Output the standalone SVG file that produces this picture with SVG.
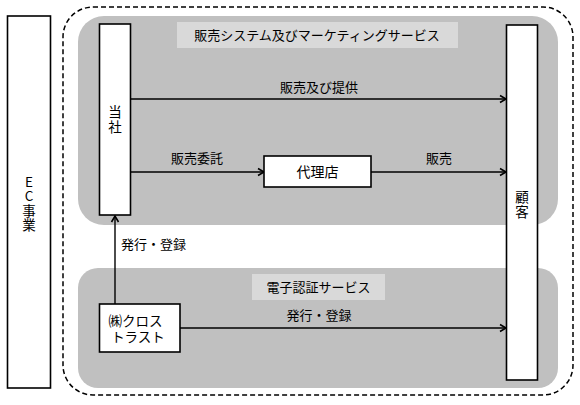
<svg xmlns="http://www.w3.org/2000/svg" width="580" height="405" viewBox="0 0 580 405">
<style>
text{font-family:"Noto Sans CJK JP","Liberation Sans",sans-serif;fill:#000}
.lbl{font-size:13px;text-anchor:middle}
.box{fill:#fff;stroke:#000;stroke-width:1.6}
.panel{fill:#c0c0c0}
.title{fill:#d9d9d9}
.bt{font-size:14px;text-anchor:middle}
.vt{font-size:13.5px;text-anchor:middle;writing-mode:vertical-rl;text-orientation:upright;letter-spacing:1px}
.ln{stroke:#000;stroke-width:1.4;fill:none;marker-end:url(#ah)}
</style>
<defs>
<marker id="ah" markerWidth="10" markerHeight="10" refX="8" refY="5" orient="auto" markerUnits="userSpaceOnUse">
<path d="M2,1.5 L8,5 L2,8.5" fill="none" stroke="#000" stroke-width="1.6"/>
</marker>
</defs>
<rect x="0" y="0" width="580" height="405" fill="#fff"/>
<g id="ec">
<rect class="box" x="7.5" y="16" width="43" height="372"/>
<text class="vt" x="29" y="204">EC事業</text>
</g>
<rect x="63" y="7" width="510" height="388" rx="30" ry="30" fill="none" stroke="#000" stroke-width="1.5" stroke-dasharray="5,3"/>
<g id="sales-panel">
<rect class="panel" x="78" y="16" width="480" height="209" rx="26" ry="26"/>
<rect class="title" x="177" y="22" width="281" height="26"/>
<text class="lbl" x="317" y="40">販売システム及びマーケティングサービス</text>
</g>
<g id="cert-panel">
<rect class="panel" x="78" y="268" width="480" height="120" rx="20" ry="20"/>
<rect class="title" x="252" y="274" width="133" height="26"/>
<text class="lbl" x="318.5" y="292">電子認証サービス</text>
</g>
<g id="connectors">
<line class="ln" x1="131" y1="99" x2="506" y2="99"/>
<text class="lbl" x="319" y="92">販売及び提供</text>
<line class="ln" x1="131" y1="172" x2="264" y2="172"/>
<text class="lbl" x="197" y="163">販売委託</text>
<line class="ln" x1="371" y1="172" x2="506" y2="172"/>
<text class="lbl" x="439" y="163">販売</text>
<line class="ln" x1="115" y1="304" x2="115" y2="216"/>
<text x="121" y="249" style="font-size:13px">発行・登録</text>
<line class="ln" x1="180" y1="328" x2="506" y2="328"/>
<text class="lbl" x="319" y="320">発行・登録</text>
</g>
<g id="toshya">
<rect class="box" x="99.5" y="24" width="31" height="191"/>
<text class="vt" x="115" y="120">当社</text>
</g>
<g id="dairiten">
<rect class="box" x="264" y="156" width="107" height="31"/>
<text class="bt" x="317.5" y="177">代理店</text>
</g>
<g id="kokyaku">
<rect class="box" x="506.5" y="25" width="31" height="355"/>
<text class="vt" x="522" y="205">顧客</text>
</g>
<g id="crosstrust">
<rect class="box" x="99.5" y="304" width="80.5" height="48"/>
<text class="bt" x="135.5" y="326" style="font-size:13.5px">㈱クロス</text>
<text class="bt" x="138" y="342" style="font-size:13.5px">トラスト</text>
</g>
</svg>
